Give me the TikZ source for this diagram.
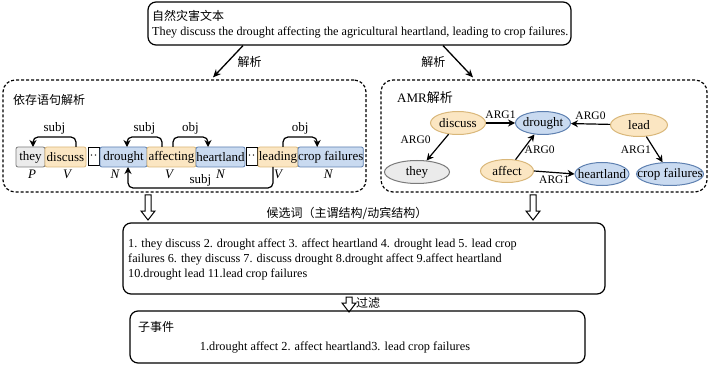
\documentclass[tikz,border=0pt]{standalone}
\usepackage{fontspec}
\setmainfont{Liberation Serif}
\newfontfamily\cjk{Noto Sans CJK SC}
\usetikzlibrary{positioning,arrows.meta,shapes.geometric}

\definecolor{grayfill}{HTML}{EBEBEB}
\definecolor{grayline}{HTML}{7A7A7A}
\definecolor{orangefill}{HTML}{FBE6C2}
\definecolor{orangeline}{HTML}{D9B77A}
\definecolor{bluefill}{HTML}{C9DAF0}
\definecolor{blueline}{HTML}{5E80B0}

% hollow arrow pointing down: #1 top centre, #2 shaft length
\newcommand{\hollowdown}[2]{%
  \draw[line width=1pt,fill=white,line join=miter] (#1) ++(-3,0) -- ++(0,#2) -- ++(-4,0) -- ++(7,9) -- ++(7,-9) -- ++(-4,0) -- ++(0,-#2) -- cycle;}

\begin{document}
\begin{tikzpicture}[x=1pt,y=-1pt,
  box/.style={draw,rounded corners=8pt,line width=1.2pt},
  parsebox/.style={draw,dash pattern=on 3pt off 2pt,rounded corners=12pt,line width=1.2pt},
  tok/.style={draw,rounded corners=2pt,line width=0.8pt,outer sep=0pt,inner xsep=0pt,minimum height=20pt,font=\fontsize{13}{15}\selectfont},
  gtok/.style={fill=grayfill,draw=grayline},
  otok/.style={fill=orangefill,draw=orangeline},
  btok/.style={fill=bluefill,draw=blueline},
  gapbox/.style={draw,line width=1pt,outer sep=0pt,inner sep=0pt,minimum width=11pt,minimum height=18pt,font=\fontsize{12}{14}\selectfont},
  postag/.style={inner sep=0pt,font=\fontsize{13}{15}\itshape},
  amr/.style={ellipse,line width=1pt,inner xsep=-10pt,inner ysep=0pt,minimum height=23pt,font=\fontsize{13}{15}\selectfont},
  dep/.style={line width=1.2pt,rounded corners=5pt,-{Stealth[length=7pt,width=7pt]}},
  rel/.style={line width=1.2pt,-{Stealth[length=7pt,width=7pt]}},
  parse/.style={line width=1.3pt,-{Stealth[length=8pt,width=7pt]}},
  lbl/.style={inner sep=1pt,font=\fontsize{13}{15}\selectfont},
  arglbl/.style={inner sep=1pt,font=\fontsize{11.5}{13}\selectfont},
  cn/.style={font=\fontsize{12}{14}\cjk}
]
\useasboundingbox (0,0) rectangle (709,366);

% source text
\node[box,minimum width=423pt,minimum height=43pt] (src) at (359.5,23.5) {};
\node[cn,anchor=west,inner sep=0pt] (srctitle) at (152,16) {自然灾害文本};
\node[anchor=west,inner sep=0pt,font=\fontsize{12.2}{14}\selectfont] (srctext) at (152,33)
  {They discuss the drought affecting the agricultural heartland, leading to crop failures.};

% two parsers
\node[parsebox,minimum width=363pt,minimum height=112pt] (depbox) at (184.5,136) {};
\node[parsebox,minimum width=326pt,minimum height=112pt] (amrbox) at (544,136) {};
\node[cn,anchor=west,inner sep=0pt] (deptitle) at (13,100) {依存语句解析};
\node[anchor=west,inner sep=0pt,font=\fontsize{13}{15}\selectfont] (amrtitle) at (397,98) {AMR\cjk 解析};

\draw[parse] ([xshift=-116.5pt]src.south) -- node[cn,midway,right=9pt,inner sep=0pt]{解析} ([xshift=28.5pt,yshift=2pt]depbox.north);
\draw[parse] ([xshift=83.5pt]src.south) -- node[cn,midway,left=12pt,inner sep=0pt]{解析} ([xshift=-71pt,yshift=2pt]amrbox.north);

% dependency tokens
\node[tok,gtok,minimum width=29pt,anchor=west] (they) at (16,157) {they};
\node[tok,otok,minimum width=41pt,right=0pt of they] (discuss) {discuss};
\node[gapbox,right=2pt of discuss] (gap1) {··};
\node[tok,btok,minimum width=47pt,right=1pt of gap1] (drought) {drought};
\node[tok,otok,minimum width=49pt,right=0pt of drought] (affecting) {affecting};
\node[tok,btok,minimum width=49pt,right=0pt of affecting] (heartland) {heartland};
\node[gapbox,right=1pt of heartland] (gap2) {··};
\node[tok,otok,minimum width=40pt,right=1pt of gap2] (leading) {leading};
\node[tok,btok,minimum width=65pt,right=0pt of leading] (crop) {crop failures};

\node[postag,below=3pt of they,xshift=1.5pt] (pThey) {P};
\node[postag,below=3pt of discuss,xshift=1.5pt] (pDiscuss) {V};
\node[postag,below=3pt of drought,xshift=-8.5pt] (pDrought) {N};
\node[postag,below=3pt of affecting,xshift=-2.5pt] (pAffecting) {V};
\node[postag,below=3pt of heartland] (pHeartland) {N};
\node[postag,below=3pt of leading] (pLeading) {V};
\node[postag,below=3pt of crop,xshift=-2.5pt] (pCrop) {N};

\draw[dep] ([xshift=10.5pt]discuss.north) -- ++(0,-10) -| node[lbl,pos=0.25,above=1pt]{subj} ([xshift=2.5pt]they.north);
\draw[dep] ([xshift=-9.5pt]affecting.north) -- ++(0,-10) -| node[lbl,pos=0.25,above=1pt]{subj} ([xshift=3.5pt]drought.north);
\draw[dep] ([xshift=1.5pt]affecting.north) -- ++(0,-10) -| node[lbl,pos=0.25,above=1pt]{obj} ([xshift=-12.5pt]heartland.north);
\draw[dep] ([xshift=5pt]leading.north) -- ++(0,-10) -| node[lbl,pos=0.25,above=1pt]{obj} ([xshift=-13.5pt]crop.north);
\draw[dep] ([xshift=-5pt]leading.south) -- ++(0,21) -| node[lbl,pos=0.25,above=0pt]{subj} ([xshift=4.5pt]drought.south);

% AMR graph
\node[amr,otok,minimum width=55pt] (aDiscuss) at (458,123) {discuss};
\node[amr,btok,minimum width=55pt] (aDrought) at (543,123) {drought};
\node[amr,otok,minimum width=57pt] (aLead) at (639,125) {lead};
\node[amr,gtok,minimum width=65pt] (aThey) at (417,172) {they};
\node[amr,otok,minimum width=53pt] (aAffect) at (507,171) {affect};
\node[amr,btok,minimum width=54pt] (aHeartland) at (602,174) {heartland};
\node[amr,btok,minimum width=67pt] (aCrop) at (670,174) {crop failures};

\draw[rel] (aDiscuss) -- node[arglbl,midway,above=3pt]{ARG1} (aDrought);
\draw[rel] (aLead) -- node[arglbl,midway,above=3pt]{ARG0} (aDrought);
\draw[rel] (aDiscuss) -- node[arglbl,pos=0.2,left=12pt]{ARG0} (aThey);
\draw[rel] (aAffect) -- node[arglbl,pos=0.4,right=0pt]{ARG0} (aDrought);
\draw[rel] (aAffect.east) -- node[arglbl,midway,below=2pt]{ARG1} (aHeartland.west);
\draw[rel] (aLead) -- node[arglbl,midway,left=2pt]{ARG1} (aCrop);

% candidates
\coordinate (down1) at (148,195);
\coordinate (down2) at (533,195);
\hollowdown{down1}{16}
\hollowdown{down2}{16}
\node[cn,inner sep=0pt] (candtitle) at (347,213) {候选词（主谓结构/动宾结构）};
\node[box,minimum width=482pt,minimum height=71pt] (cand) at (364,258.5) {};
\node[anchor=west,align=left,inner sep=0pt,font=\fontsize{12.2}{15}\selectfont] (candtext) at (128,260)
  {1. they discuss 2. drought affect 3. affect heartland 4. drought lead 5. lead crop\\
   failures 6. they discuss 7. discuss drought 8.drought affect 9.affect heartland\\
   10.drought lead 11.lead crop failures};

% filtering
\coordinate (down3) at (349,297);
\hollowdown{down3}{6}
\node[cn,anchor=west,inner sep=0pt] (filter) at (356,303) {过滤};
\node[box,minimum width=455pt,minimum height=52pt] (sub) at (357.5,337) {};
\node[cn,anchor=west,inner sep=0pt] (subtitle) at (138,327) {子事件};
\node[inner sep=0pt,font=\fontsize{12.3}{14}\selectfont] (subtext) at (335,347)
  {1.drought affect 2. affect heartland3. lead crop failures};
\end{tikzpicture}
\end{document}
